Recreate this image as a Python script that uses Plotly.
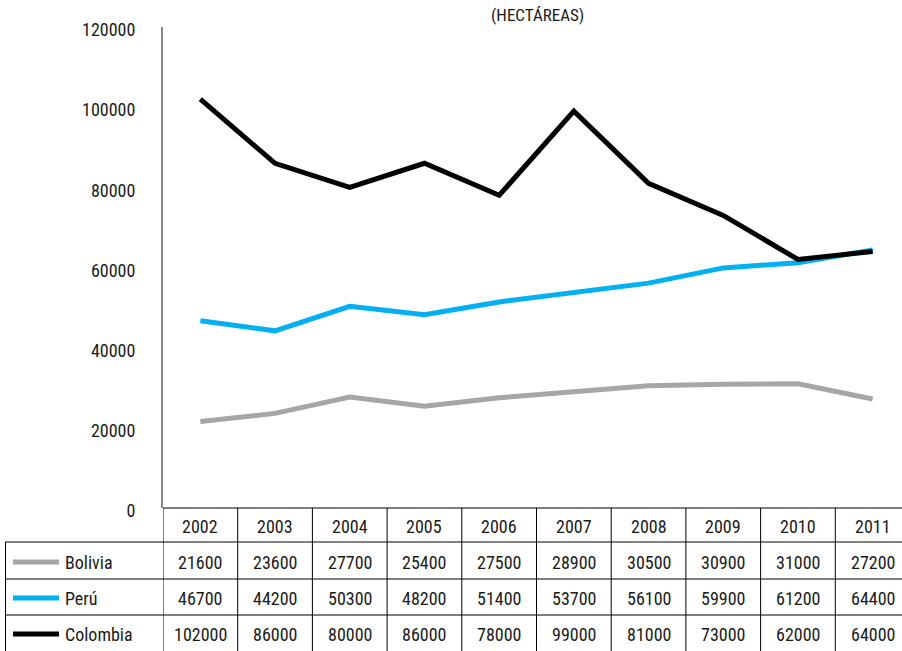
import plotly.graph_objects as go

years = ["2002", "2003", "2004", "2005", "2006", "2007", "2008", "2009", "2010", "2011"]
series_names = ["Bolivia", "Perú", "Colombia"]
bolivia = [21600, 23600, 27700, 25400, 27500, 28900, 30500, 30900, 31000, 27200]
peru = [46700, 44200, 50300, 48200, 51400, 53700, 56100, 59900, 61200, 64400]
colombia = [102000, 86000, 80000, 86000, 78000, 99000, 81000, 73000, 62000, 64000]
y_ticks = [0, 20000, 40000, 60000, 80000, 100000, 120000]
title_text = "(HECTÁREAS)"

values = [bolivia, peru, colombia]
colors = ["#A6A6A6", "#00B0F0", "#000000"]

W, H = 902, 651
AX_LEFT, PLOT_TOP, PLOT_BOTTOM = 163, 27, 508
ML, MT, MB, MR = AX_LEFT, PLOT_TOP, H - PLOT_BOTTOM, 0
PW = W - ML - MR
PH = H - MT - MB
FONT = "Liberation Sans Narrow, Arial Narrow, Roboto Condensed, sans-serif"
FS = 18
TXT = "#1a1a1a"

def px_x(p):
    return (p - AX_LEFT) / PW

def px_y(p):
    return (PLOT_BOTTOM - p) / PH

x_idx = list(range(len(years)))
fig = go.Figure()
for name, vals, col in zip(series_names, values, colors):
    fig.add_trace(go.Scatter(x=x_idx, y=vals, mode="lines", name=name,
                             line=dict(color=col, width=5), showlegend=False,
                             hoverinfo="x+y+name"))

col_w = 74.7
x_max = PW / col_w - 0.5

row_lines = [508, 542, 579, 615]
row_centers = [526, 562, 598, 634]
shapes = []
annotations = []
line_style = dict(color="#000000", width=1)
shapes.append(dict(type="line", xref="paper", yref="paper", x0=0, x1=1.02,
                   y0=px_y(row_lines[0]), y1=px_y(row_lines[0]), line=line_style))
for yl in row_lines[1:]:
    shapes.append(dict(type="line", xref="paper", yref="paper", x0=px_x(5), x1=1.02,
                       y0=px_y(yl), y1=px_y(yl), line=line_style))
shapes.append(dict(type="line", xref="paper", yref="paper", x0=px_x(5.5), x1=px_x(5.5),
                   y0=px_y(row_lines[1]), y1=px_y(H + 5), line=line_style))
for i in range(len(years) + 1):
    shapes.append(dict(type="line", xref="x", yref="paper", x0=i - 0.5, x1=i - 0.5,
                       y0=px_y(row_lines[0]), y1=px_y(H + 5), line=line_style))
for i, yr in enumerate(years):
    annotations.append(dict(x=i, y=px_y(row_centers[0]), xref="x", yref="paper",
                            xanchor="center", yanchor="middle",
                            text=yr, showarrow=False, font=dict(family=FONT, size=FS, color=TXT)))
for r, (name, vals, col) in enumerate(zip(series_names, values, colors)):
    yc = px_y(row_centers[r + 1])
    shapes.append(dict(type="line", xref="paper", yref="paper", x0=px_x(13), x1=px_x(59),
                       y0=yc, y1=yc, line=dict(color=col, width=5)))
    annotations.append(dict(x=px_x(63), y=yc, xref="paper", yref="paper",
                            xanchor="left", yanchor="middle",
                            text=name, showarrow=False, font=dict(family=FONT, size=FS, color=TXT)))
    for i, v in enumerate(vals):
        annotations.append(dict(x=i, y=yc, xref="x", yref="paper", text=str(v),
                                xanchor="center", yanchor="middle",
                                showarrow=False, font=dict(family=FONT, size=FS, color=TXT)))

annotations.append(dict(x=px_x(537), y=px_y(15), xref="paper", yref="paper",
                        xanchor="center", yanchor="middle",
                        text=title_text, showarrow=False,
                        font=dict(family=FONT, size=17, color=TXT)))

fig.update_layout(
    width=W, height=H,
    margin=dict(l=ML, r=MR, t=MT, b=MB, pad=0),
    paper_bgcolor="white", plot_bgcolor="white",
    font=dict(family=FONT, size=FS, color=TXT),
    xaxis=dict(range=[-0.5, x_max], showgrid=False, zeroline=False, showline=False,
               showticklabels=False, ticks="", fixedrange=True),
    yaxis=dict(range=[0, 120000], tickvals=y_ticks, ticktext=[str(t) for t in y_ticks],
               showgrid=False, zeroline=False, showline=True, linecolor="#868686", linewidth=2,
               ticks="", ticklabelstandoff=22, ticklabelshift=3,
               tickfont=dict(family=FONT, size=FS, color=TXT)),
    shapes=shapes, annotations=annotations,
)

fig.write_html("out.html", config={"displayModeBar": False},
               post_script="document.body.style.margin='0px';")
